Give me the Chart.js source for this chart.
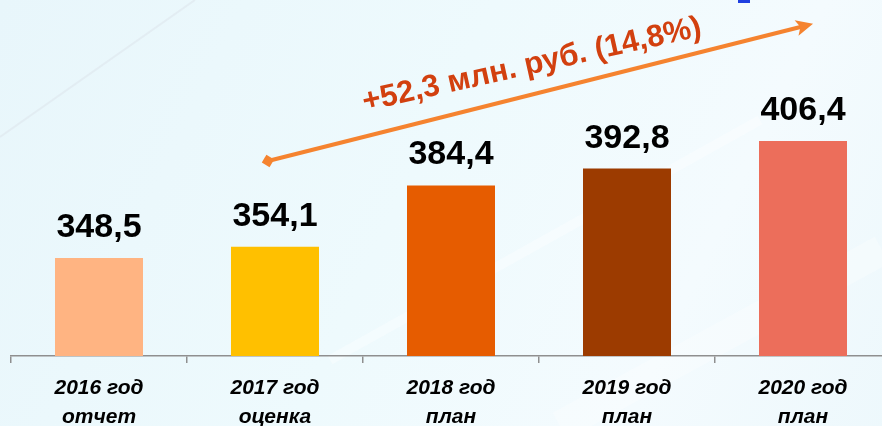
<!DOCTYPE html>
<html>
<head>
<meta charset="utf-8">
<script src="https://cdn.jsdelivr.net/npm/chart.js@4.4.1/dist/chart.umd.min.js"></script>
<style>
  html, body { margin: 0; padding: 0; width: 882px; height: 426px; overflow: hidden; background: #eef9fd; }
  #wrap { position: relative; width: 882px; height: 426px; overflow: hidden; }
  canvas { position: absolute; left: 0; top: 0; }
  #titleFrag { position: absolute; left: 738px; top: 0; width: 12px; height: 3px; background: #1f3fe0; }
</style>
</head>
<body>
<div id="wrap">
  <canvas id="c" width="900" height="426"></canvas>
  <div id="titleFrag"></div>
</div>
<script>
// ---- data ----
const categories = [["2016 год", "отчет"], ["2017 год", "оценка"], ["2018 год", "план"], ["2019 год", "план"], ["2020 год", "план"]];
const values = [348.5, 354.1, 384.4, 392.8, 406.4];
const valueLabels = ["348,5", "354,1", "384,4", "392,8", "406,4"];
const barColors = ["#FFB482", "#FFC000", "#E65C00", "#9C3B00", "#EC6E5B"];
const growthText = "+52,3 млн. руб. (14,8%)";
// annotation anchors: [category position, value]
const arrowStart = [0.96, 396.5];
const arrowEnd = [4.057, 464.4];
const growthTextAnchor = [2.46, 444.0];
const yMin = 300, yMax = 476.2;

const bgPlugin = {
  id: 'bg',
  beforeDraw(chart) {
    const ctx = chart.ctx, w = chart.width, h = chart.height;
    ctx.save();
    const g = ctx.createLinearGradient(0, 0, w, h);
    g.addColorStop(0, '#e8f6fb');
    g.addColorStop(0.45, '#eefafd');
    g.addColorStop(0.75, '#f4fbfe');
    g.addColorStop(1, '#edf8fc');
    ctx.fillStyle = g;
    ctx.fillRect(0, 0, w, h);
    // faint diagonal streaks
    ctx.strokeStyle = 'rgba(222,230,236,0.6)';
    ctx.lineWidth = 2;
    ctx.beginPath(); ctx.moveTo(0, 137); ctx.lineTo(195, 0); ctx.stroke();
    ctx.strokeStyle = 'rgba(255,255,255,0.35)';
    ctx.lineWidth = 10;
    ctx.beginPath(); ctx.moveTo(330, 360); ctx.lineTo(760, 120); ctx.stroke();
    ctx.lineWidth = 30;
    ctx.strokeStyle = 'rgba(255,255,255,0.3)';
    ctx.beginPath(); ctx.moveTo(560, 426); ctx.lineTo(882, 250); ctx.stroke();
    ctx.restore();
  }
};

const annoPlugin = {
  id: 'anno',
  afterDatasetsDraw(chart) {
    const ctx = chart.ctx;
    const xs = chart.scales.x, ys = chart.scales.y;
    const meta = chart.getDatasetMeta(0);
    ctx.save();
    // value labels
    ctx.fillStyle = '#000';
    ctx.font = 'bold 34px "Liberation Sans", Arial, sans-serif';
    ctx.textAlign = 'center';
    ctx.textBaseline = 'alphabetic';
    meta.data.forEach((bar, i) => {
      ctx.fillText(valueLabels[i], bar.x, bar.y - 21);
    });
    // arrow
    const x1 = xs.getPixelForValue(arrowStart[0]), y1 = ys.getPixelForValue(arrowStart[1]);
    const x2 = xs.getPixelForValue(arrowEnd[0]), y2 = ys.getPixelForValue(arrowEnd[1]);
    const ang = Math.atan2(y2 - y1, x2 - x1);
    const col = '#F5832F';
    ctx.strokeStyle = col;
    ctx.fillStyle = col;
    ctx.lineWidth = 4;
    ctx.beginPath();
    ctx.moveTo(x1, y1);
    ctx.lineTo(x2 - 12 * Math.cos(ang), y2 - 12 * Math.sin(ang));
    ctx.stroke();
    // arrow head
    ctx.save();
    ctx.translate(x2, y2);
    ctx.rotate(ang);
    ctx.beginPath();
    ctx.moveTo(0, 0);
    ctx.lineTo(-17, -8);
    ctx.lineTo(-13, 0);
    ctx.lineTo(-17, 8);
    ctx.closePath();
    ctx.fill();
    ctx.restore();
    // diamond
    ctx.save();
    ctx.translate(x1, y1);
    ctx.rotate(ang + Math.PI / 4);
    ctx.fillRect(-4.5, -4.5, 9, 9);
    ctx.restore();
    // growth text
    const tx = xs.getPixelForValue(growthTextAnchor[0]), ty = ys.getPixelForValue(growthTextAnchor[1]);
    ctx.save();
    ctx.translate(tx, ty);
    ctx.rotate(-12.6 * Math.PI / 180);
    ctx.fillStyle = '#D2400F';
    ctx.font = 'bold 31px "Liberation Sans", Arial, sans-serif';
    ctx.textAlign = 'center';
    ctx.textBaseline = 'middle';
    ctx.fillText(growthText, 0, 0);
    ctx.restore();
    ctx.restore();
  }
};

new Chart(document.getElementById('c'), {
  type: 'bar',
  data: {
    labels: categories,
    datasets: [{
      data: values,
      backgroundColor: barColors,
      borderWidth: 0,
      barPercentage: 0.5,
      categoryPercentage: 1.0
    }]
  },
  options: {
    responsive: false,
    devicePixelRatio: 1,
    animation: false,
    layout: { padding: { left: 11, right: 9, top: 0, bottom: 0 } },
    plugins: { legend: { display: false }, tooltip: { enabled: false } },
    scales: {
      x: {
        grid: { display: true, drawOnChartArea: false, drawTicks: true, tickLength: 7, color: '#8f8f8f', lineWidth: 1.5, offset: true },
        border: { display: true, color: '#8f8f8f', width: 1.5 },
        ticks: {
          color: '#000',
          font: { family: '"Liberation Sans", Arial, sans-serif', size: 21, style: 'italic', weight: 'bold', lineHeight: 1.38 },
          padding: 11,
          maxRotation: 0,
          autoSkip: false
        },
        afterFit(s) { s.height = 70; }
      },
      y: {
        display: false,
        min: yMin,
        max: yMax
      }
    }
  },
  plugins: [bgPlugin, annoPlugin]
});
</script>
</body>
</html>
